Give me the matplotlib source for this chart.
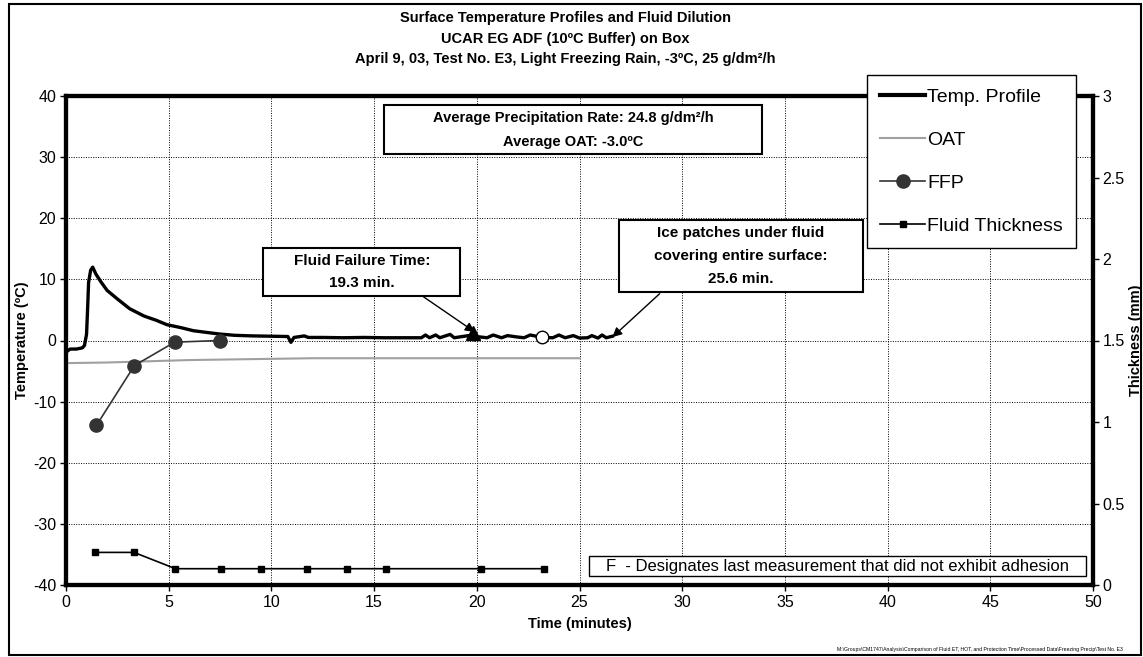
import matplotlib.pyplot as plt
import matplotlib.patches as patches
from matplotlib.lines import Line2D

plt.rcParams['font.family'] = ['Liberation Sans', 'DejaVu Sans']
plt.rcParams['axes.unicode_minus'] = False

# temperature profile (min, degC)
temp_t = [0, 0.2, 0.5, 0.8, 0.9, 1.0, 1.05, 1.1, 1.2, 1.3, 1.45, 1.7, 2.0, 2.5,
          3.1, 3.8, 4.4, 4.9, 5.6, 6.2, 6.9, 7.5, 8.2, 9.1, 10.0, 10.8, 10.95,
          11.1, 11.6, 11.8, 12.5, 13.5, 14.5, 15.5, 16.5, 17.3, 17.5, 17.7, 18.0,
          18.2, 18.7, 18.9, 19.2, 19.6, 19.9, 20.1, 20.5, 20.8, 21.2, 21.5, 21.9,
          22.3, 22.6, 23.2, 23.7, 24.0, 24.3, 24.7, 25.0, 25.4, 25.6, 25.9, 26.1,
          26.3, 26.6]
temp_v = [-1.9, -1.4, -1.4, -1.2, -0.8, 1.0, 5.0, 9.5, 11.5, 12.0, 10.9, 9.6, 8.2,
          6.8, 5.2, 4.0, 3.3, 2.6, 2.1, 1.6, 1.3, 1.05, 0.85, 0.75, 0.7, 0.65, -0.3,
          0.5, 0.75, 0.5, 0.5, 0.45, 0.5, 0.45, 0.45, 0.45, 0.9, 0.45, 0.9, 0.45, 1.0,
          0.45, 0.6, 0.8, 0.1, 0.6, 0.45, 0.9, 0.45, 0.8, 0.6, 0.45, 0.9, 0.5, 0.45,
          0.9, 0.45, 0.8, 0.4, 0.45, 0.8, 0.4, 0.9, 0.45, 0.7]

# outside air temperature
oat_t = [0, 2, 4, 6, 8, 10, 12, 25]
oat_v = [-3.7, -3.6, -3.4, -3.2, -3.1, -3.0, -2.9, -2.9]

# fluid freezing point
ffp_t = [1.48, 3.33, 5.29, 7.52]
ffp_v = [-13.9, -4.1, -0.27, 0.0]

# fluid thickness (mm)
thk_t = [1.42, 3.31, 5.33, 7.53, 9.49, 11.73, 13.68, 15.56, 20.19, 23.29]
thk_v = [0.2, 0.2, 0.1, 0.1, 0.1, 0.1, 0.1, 0.1, 0.1, 0.1]

fail_t, fail_v = 19.8, 1.2
last_t, last_v = 23.15, 0.55

fig = plt.figure(figsize=(11.43, 6.57), dpi=100)
W, H = 1143, 657
ax = fig.add_axes([66 / W, 1 - 585 / H, (1093 - 66) / W, (585 - 96) / H])
ax2 = ax.twinx()

# figure border
fig.add_artist(patches.Rectangle((9 / W, 1 - 655 / H), 1132 / W, 651 / H,
                                 transform=fig.transFigure, fill=False,
                                 lw=1.5, ec='black'))

ax.plot(oat_t, oat_v, color='#a0a0a0', lw=1.5, zorder=3)
ax.plot(temp_t, temp_v, color='black', lw=2.4, zorder=4)
ax.plot(ffp_t, ffp_v, color='#333333', lw=1.2, marker='o', ms=9.5, zorder=5)
ax.plot([fail_t], [fail_v], marker='^', color='black', ms=10, zorder=6)
ax.plot([last_t], [last_v], marker='o', mfc='white', mec='black', ms=9, mew=1, zorder=6)
ax2.plot(thk_t, thk_v, color='black', lw=1.2, marker='s', ms=5)

ax.set_xlim(0, 50)
ax.set_ylim(-40, 40)
ax2.set_ylim(0, 3)
ax.set_xticks(range(0, 51, 5))
ax.set_yticks(range(-40, 41, 10))
ax2.set_yticks([0, 0.5, 1, 1.5, 2, 2.5, 3])
ax2.set_yticklabels(['0', '0.5', '1', '1.5', '2', '2.5', '3'])
ax.grid(True, color='black', ls=(0, (1, 1.5)), lw=0.7)
ax.set_axisbelow(True)

for a in (ax, ax2):
    for s in a.spines.values():
        s.set_linewidth(3)
    a.tick_params(labelsize=11.5, direction='out', length=4, width=1, pad=3)

ax.set_xlabel('Time (minutes)', fontsize=10.5, fontweight='bold', labelpad=5)
ax.set_ylabel('Temperature (ºC)', fontsize=10.5, fontweight='bold', labelpad=3)
ax2.set_ylabel('Thickness (mm)', fontsize=10.5, fontweight='bold', labelpad=3)

# title
fig.text(565 / W, 1 - 18 / H, 'Surface Temperature Profiles and Fluid Dilution',
         ha='center', va='center', fontsize=10.5, fontweight='bold')
fig.text(565 / W, 1 - 39 / H, 'UCAR EG ADF (10ºC Buffer) on Box',
         ha='center', va='center', fontsize=10.5, fontweight='bold')
fig.text(565 / W, 1 - 59 / H,
         'April 9, 03, Test No. E3, Light Freezing Rain, -3ºC, 25 g/dm²/h',
         ha='center', va='center', fontsize=10.5, fontweight='bold')


def box(x0, x1, y0, y1, text, lw=1.5, weight='bold', size=11, ls=1.8):
    ax.add_patch(patches.Rectangle((x0, y0), x1 - x0, y1 - y0, fill=True,
                                   fc='white', ec='black', lw=lw, zorder=7))
    ax.text((x0 + x1) / 2, (y0 + y1) / 2, text, ha='center', va='center',
            fontsize=size, fontweight=weight, zorder=8, linespacing=ls)


box(15.5, 33.9, 30.5, 38.5,
    'Average Precipitation Rate: 24.8 g/dm²/h\nAverage OAT: -3.0ºC',
    size=10.5, ls=1.9)
box(9.6, 19.2, 7.3, 15.1, 'Fluid Failure Time:\n19.3 min.')
box(26.9, 38.8, 7.9, 19.7,
    'Ice patches under fluid\ncovering entire surface:\n25.6 min.')
box(25.45, 49.65, -38.6, -35.3,
    'F  - Designates last measurement that did not exhibit adhesion',
    lw=1, weight='normal', size=12, ls=1.2)

ax.annotate('', xy=(19.9, 1.4), xytext=(17.34, 7.3),
            arrowprops=dict(arrowstyle='-|>', color='black', lw=1,
                            mutation_scale=14, shrinkA=0, shrinkB=0), zorder=6)
ax.annotate('', xy=(26.6, 0.55), xytext=(28.9, 7.65),
            arrowprops=dict(arrowstyle='-|>', color='black', lw=1,
                            mutation_scale=14, shrinkA=0, shrinkB=0), zorder=6)

handles = [
    Line2D([], [], color='black', lw=3),
    Line2D([], [], color='#a0a0a0', lw=1.5),
    Line2D([], [], color='#333333', lw=1.2, marker='o', ms=9.5),
    Line2D([], [], color='black', lw=1.2, marker='s', ms=5),
]
labels = ['Temp. Profile', 'OAT', 'FFP', 'Fluid Thickness']
leg = fig.legend(handles, labels, loc='upper left',
                 bbox_to_anchor=(866.7 / W, 1 - 75 / H), fontsize=14,
                 frameon=True, fancybox=False, edgecolor='black',
                 framealpha=1, handlelength=2.3, handletextpad=0.1,
                 labelspacing=1.3, borderpad=0.7, borderaxespad=0)
leg.get_frame().set_linewidth(1)

fig.text(1123 / W, 1 - 650 / H,
         'M:\\Groups\\CM1747\\Analysis\\Comparison of Fluid ET, HOT, and Protection '
         'Time\\Processed Data\\Freezing Precip\\Test No. E3',
         ha='right', va='center', fontsize=3.7)

fig.savefig('out.png', dpi=100)
